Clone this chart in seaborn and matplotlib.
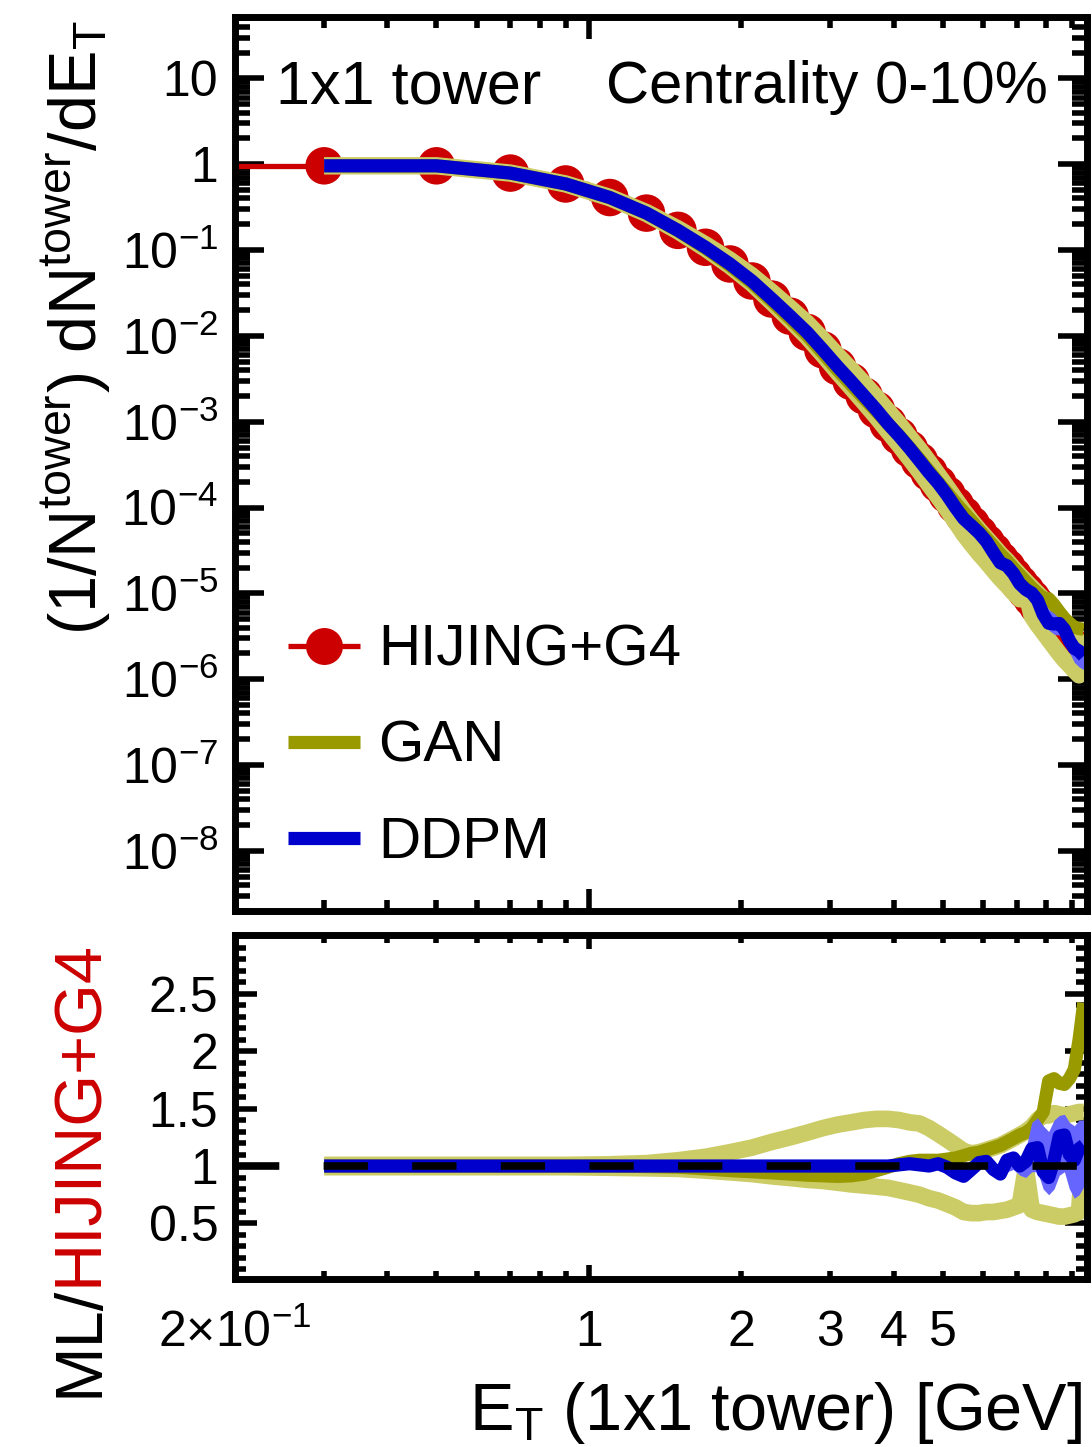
import numpy as np
import pandas as pd
import matplotlib
matplotlib.use("Agg")
import matplotlib.pyplot as plt
import seaborn as sns
from matplotlib.lines import Line2D
from matplotlib.ticker import FixedLocator, FixedFormatter, LogLocator, MultipleLocator, NullFormatter

# ---- data (bin centres, 0.2 GeV bins) ----
et = [0.3, 0.5, 0.7, 0.9, 1.1, 1.3, 1.5, 1.7, 1.9, 2.1, 2.3, 2.5, 2.7, 2.9, 3.1, 3.3,
      3.5, 3.7, 3.9, 4.1, 4.3, 4.5, 4.7, 4.9, 5.1, 5.3, 5.5, 5.7, 5.9, 6.1, 6.3, 6.5,
      6.7, 6.9, 7.1, 7.3, 7.5, 7.7, 7.9, 8.1, 8.3, 8.5, 8.7, 8.9, 9.1, 9.3, 9.5]
bin_half_width = 0.1

hijing = [0.96, 0.96, 0.79, 0.59, 0.41, 0.27, 0.17, 0.108, 0.069, 0.0437, 0.0269, 0.0170,
          0.0110, 0.0069, 0.0044, 0.00295, 0.0020, 0.00138, 0.00095, 0.00068, 0.000484,
          0.000350, 0.000256, 0.000189, 0.000142, 0.000107, 8.2e-5, 6.35e-5, 4.94e-5,
          3.89e-5, 3.09e-5, 2.45e-5, 2.0e-5, 1.6e-5, 1.3e-5, 1.07e-5, 8.8e-6, 7.2e-6,
          6.0e-6, 5.0e-6, 4.2e-6, 3.55e-6, 3.0e-6, 2.57e-6, 2.19e-6, 1.86e-6, 1.58e-6]

# ratios ML / HIJING+G4
gan_ratio = [1.00, 1.00, 1.00, 1.00, 1.00, 0.995, 0.99, 0.975, 0.96, 0.95, 0.94, 0.93,
             0.92, 0.915, 0.91, 0.915, 0.93, 0.96, 0.99, 1.02, 1.04, 1.05, 1.05, 1.05,
             1.06, 1.07, 1.09, 1.11, 1.12, 1.14, 1.16, 1.18, 1.21, 1.24, 1.27, 1.29,
             1.33, 1.40, 1.47, 1.74, 1.76, 1.72, 1.71, 1.76, 1.84, 2.10, 2.42]
gan_up = [1.01, 1.01, 1.01, 1.01, 1.015, 1.025, 1.05, 1.08, 1.12, 1.16, 1.21, 1.25,
          1.29, 1.33, 1.36, 1.38, 1.40, 1.41, 1.41, 1.40, 1.38, 1.37, 1.33, 1.28,
          1.23, 1.18, 1.13, 1.11, 1.12, 1.14, 1.16, 1.18, 1.21, 1.24, 1.27, 1.30,
          1.34, 1.40, 1.44, 1.44, 1.46, 1.45, 1.44, 1.45, 1.46, 1.47, 1.47]
gan_lo = [0.99, 0.99, 0.99, 0.99, 0.985, 0.98, 0.975, 0.96, 0.945, 0.93, 0.91, 0.895,
          0.88, 0.87, 0.855, 0.84, 0.83, 0.82, 0.81, 0.79, 0.77, 0.75, 0.72, 0.70,
          0.67, 0.64, 0.60, 0.59, 0.59, 0.60, 0.60, 0.61, 0.62, 0.64, 0.66, 0.98,
          0.62, 0.60, 0.59, 0.58, 0.57, 0.56, 0.56, 0.57, 0.58, 0.60, 1.20]
ddpm_ratio = [1.00, 1.00, 1.00, 1.00, 1.00, 1.00, 1.00, 1.00, 1.00, 1.00, 1.00, 1.00,
              1.00, 1.00, 1.00, 1.00, 1.00, 1.00, 1.00, 1.01, 1.02, 1.01, 1.00, 1.02,
              0.99, 0.94, 0.91, 0.97, 1.03, 1.04, 0.97, 0.93, 1.05, 1.07, 1.00, 1.04,
              1.15, 1.16, 0.95, 0.90, 1.05, 1.26, 1.27, 1.10, 1.05, 1.15, 1.18]
ddpm_lo = [0.985, 0.985, 0.985, 0.985, 0.985, 0.985, 0.985, 0.985, 0.985, 0.985, 0.985,
           0.985, 0.985, 0.985, 0.985, 0.985, 0.985, 0.985, 0.985, 0.985, 0.985, 0.97,
           0.96, 0.98, 0.95, 0.90, 0.87, 0.93, 0.99, 1.00, 0.95, 0.88, 0.95, 0.97,
           0.92, 0.90, 0.95, 0.95, 0.80, 0.75, 0.80, 0.92, 0.95, 0.80, 0.72, 0.75, 0.82]
ddpm_hi = [1.015, 1.015, 1.015, 1.015, 1.015, 1.015, 1.015, 1.015, 1.015, 1.015, 1.015,
           1.015, 1.015, 1.015, 1.015, 1.015, 1.015, 1.015, 1.015, 1.015, 1.015, 1.05,
           1.04, 1.06, 1.03, 0.98, 0.95, 1.01, 1.07, 1.08, 1.02, 0.98, 1.10, 1.12,
           1.08, 1.15, 1.38, 1.42, 1.35, 1.30, 1.40, 1.44, 1.45, 1.38, 1.35, 1.40, 1.40]
ref_level = 1.0

# axis ticks / labels
x_major = [1.0]
x_major_labels = ["1"]
x_minor = [0.2, 0.3, 0.4, 0.5, 0.6, 0.7, 0.8, 0.9, 2, 3, 4, 5, 6, 7, 8, 9]
x_minor_labels = ["2×10$^{-1}$", "", "", "", "", "", "", "", "2", "3", "4", "5", "", "", "", ""]
y1_major = [1e-8, 1e-7, 1e-6, 1e-5, 1e-4, 1e-3, 1e-2, 1e-1, 1, 10]
y1_labels = ["$10^{-8}$", "$10^{-7}$", "$10^{-6}$", "$10^{-5}$", "$10^{-4}$",
             "$10^{-3}$", "$10^{-2}$", "$10^{-1}$", "1", "10"]
y2_major = [0.5, 1.0, 1.5, 2.0, 2.5]
y2_labels = ["0.5", "1", "1.5", "2", "2.5"]

df = pd.DataFrame({"et": et, "hijing": hijing, "gan_ratio": gan_ratio, "gan_up": gan_up,
                   "gan_lo": gan_lo, "ddpm_ratio": ddpm_ratio, "ddpm_lo": ddpm_lo,
                   "ddpm_hi": ddpm_hi})
# absolute spectra of the ML models = HIJING+G4 x ratio
df["gan_abs"] = df["hijing"] * df["gan_ratio"]
df["gan_up_abs"] = df["hijing"] * df["gan_up"]
df["gan_lo_abs"] = df["hijing"] * df["gan_lo"]
df["ddpm_abs"] = df["hijing"] * df["ddpm_ratio"]
df["ddpm_lo_abs"] = df["hijing"] * df["ddpm_lo"]
df["ddpm_hi_abs"] = df["hijing"] * df["ddpm_hi"]

sns.set_theme(style="ticks")
plt.rcParams["font.family"] = ["Liberation Sans", "DejaVu Sans"]
plt.rcParams["mathtext.fontset"] = "custom"
plt.rcParams["mathtext.rm"] = "Liberation Sans"
plt.rcParams["mathtext.it"] = "Liberation Sans:italic"
plt.rcParams["mathtext.bf"] = "Liberation Sans:bold"
plt.rcParams["mathtext.default"] = "regular"
plt.rcParams["lines.solid_joinstyle"] = "round"
plt.rcParams["lines.solid_capstyle"] = "butt"
plt.rcParams["axes.linewidth"] = 5
plt.rcParams["axes.edgecolor"] = "black"
plt.rcParams["text.color"] = "black"
plt.rcParams["axes.labelcolor"] = "black"
plt.rcParams["xtick.color"] = "black"
plt.rcParams["ytick.color"] = "black"

RED, OLIVE, OLIVE_L, BLUE, BLUE_L = "#cc0000", "#999900", "#cccc66", "#0000cc", "#6666ff"
LW = 9.5
LW_BAND = 12

W, H = 1092, 1447
fig = plt.figure(figsize=(W / 100, H / 100), dpi=100)


def px_axes(l, t, r, b):
    return [l / W, 1 - b / H, (r - l) / W, (b - t) / H]


ax1 = fig.add_axes(px_axes(235, 17, 1086.5, 911))
ax2 = fig.add_axes(px_axes(235, 935, 1086.5, 1279))

# ---- top panel: spectra ----
ax1.set_xscale("log")
ax1.set_yscale("log")
ax1.errorbar(df["et"], df["hijing"], xerr=bin_half_width, fmt="none", ecolor=RED,
             elinewidth=3.8, capsize=0, zorder=2)
sns.scatterplot(data=df, x="et", y="hijing", ax=ax1, color=RED, s=27 ** 2,
                edgecolor="none", linewidth=0, zorder=3, legend=False)
sns.lineplot(data=df, x="et", y="gan_up_abs", ax=ax1, color=OLIVE_L, lw=LW_BAND,
             estimator=None, sort=False, zorder=4)
sns.lineplot(data=df, x="et", y="gan_lo_abs", ax=ax1, color=OLIVE_L, lw=LW_BAND,
             estimator=None, sort=False, zorder=4)
sns.lineplot(data=df, x="et", y="gan_abs", ax=ax1, color=OLIVE, lw=LW,
             estimator=None, sort=False, zorder=5)
ax1.fill_between(df["et"], df["ddpm_lo_abs"], df["ddpm_hi_abs"], color=BLUE_L, lw=0, zorder=6)
sns.lineplot(data=df, x="et", y="ddpm_abs", ax=ax1, color=BLUE, lw=LW,
             estimator=None, sort=False, zorder=7)

# ---- bottom panel: ratios ----
ax2.set_xscale("log")
sns.lineplot(data=df, x="et", y="gan_up", ax=ax2, color=OLIVE_L, lw=LW_BAND,
             estimator=None, sort=False, zorder=4)
sns.lineplot(data=df, x="et", y="gan_lo", ax=ax2, color=OLIVE_L, lw=LW_BAND,
             estimator=None, sort=False, zorder=4)
sns.lineplot(data=df, x="et", y="gan_ratio", ax=ax2, color=OLIVE, lw=LW,
             estimator=None, sort=False, zorder=5)
ax2.fill_between(df["et"], df["ddpm_lo"], df["ddpm_hi"], color=BLUE_L, lw=0, zorder=6)
sns.lineplot(data=df, x="et", y="ddpm_ratio", ax=ax2, color=BLUE, lw=LW,
             estimator=None, sort=False, zorder=7)
ax2.axhline(ref_level, color="black", lw=5.5, dashes=(5.8, 5.8), zorder=10)

for ax in (ax1, ax2):
    ax.set_xlim(0.2, 9.62)
    ax.set_xlabel("")
    ax.set_ylabel("")
    ax.xaxis.set_major_locator(FixedLocator(x_major))
    ax.xaxis.set_minor_locator(FixedLocator(x_minor))
    ax.tick_params(which="both", direction="in", top=True, right=True,
                   color="black", width=4, labelsize=36, labelcolor="black")
    for s in ax.spines.values():
        s.set_linewidth(5)
        s.set_edgecolor("black")
        s.set_zorder(20)

ax1.set_ylim(2e-9, 52)
ax1.yaxis.set_major_locator(FixedLocator(y1_major))
ax1.yaxis.set_major_formatter(FixedFormatter(y1_labels))
ax1.yaxis.set_minor_locator(LogLocator(base=10, subs=(2, 3, 4, 5, 6, 7, 8, 9), numticks=100))
ax1.yaxis.set_minor_formatter(NullFormatter())
ax1.xaxis.set_major_formatter(NullFormatter())
ax1.xaxis.set_minor_formatter(NullFormatter())
ax1.tick_params(axis="y", which="major", length=21, pad=12)
ax1.tick_params(axis="y", which="minor", length=11)
ax1.tick_params(axis="x", which="major", length=16)
ax1.tick_params(axis="x", which="minor", length=8)
ax1.tick_params(axis="x", labelbottom=False)

ax2.set_ylim(0.017, 3.01)
ax2.yaxis.set_major_locator(FixedLocator(y2_major))
ax2.yaxis.set_major_formatter(FixedFormatter(y2_labels))
ax2.yaxis.set_minor_locator(MultipleLocator(0.1))
ax2.xaxis.set_major_formatter(FixedFormatter(x_major_labels))
ax2.xaxis.set_minor_formatter(FixedFormatter(x_minor_labels))
ax2.tick_params(axis="y", which="major", length=16, pad=12)
ax2.tick_params(axis="y", which="minor", length=8)
ax2.tick_params(axis="x", which="major", length=10, pad=22)
ax2.tick_params(axis="x", which="minor", length=5.5, pad=22)

# ---- legend and text ----
handles = [Line2D([], [], color=RED, lw=3.8, marker="o", ms=26.6, mec="none"),
           Line2D([], [], color=OLIVE, lw=LW),
           Line2D([], [], color=BLUE, lw=LW)]
ax1.legend(handles, ["HIJING+G4", "GAN", "DDPM"], loc="upper left",
           bbox_to_anchor=(288 / W, 1 - 624 / H), bbox_transform=fig.transFigure,
           frameon=False, fontsize=42, handlelength=1.24, handletextpad=0.31,
           labelspacing=0.72, borderpad=0, borderaxespad=0, numpoints=1)

fig.text(276 / W, 1 - 103 / H, "1x1 tower", fontsize=44, ha="left", va="baseline")
fig.text(1048 / W, 1 - 103 / H, "Centrality 0-10%", fontsize=43, ha="right", va="baseline")

fig.text(1082 / W, 1 - 1430 / H, r"E$_{T}$ (1x1 tower) [GeV]", fontsize=48,
         ha="right", va="baseline")
fig.text(97 / W, 1 - 20 / H, r"(1/N$^{tower}$) dN$^{tower}$/dE$_{T}$", fontsize=48,
         rotation=90, rotation_mode="anchor", ha="right", va="baseline")

red_lab = fig.text(97 / W, 1 - 940 / H, "HIJING+G4", fontsize=48, color=RED,
                   rotation=90, rotation_mode="anchor", ha="right", va="baseline")
fig.canvas.draw()
bb = red_lab.get_window_extent(fig.canvas.get_renderer())
fig.text(97 / W, bb.y0 / H, "ML/", fontsize=48, color="black",
         rotation=90, rotation_mode="anchor", ha="right", va="baseline")

fig.savefig("out.png", dpi=100)
